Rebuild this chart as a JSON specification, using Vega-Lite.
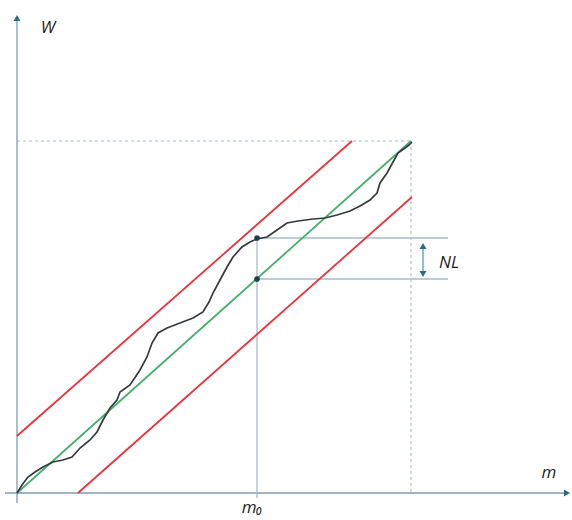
{
  "$schema": "https://vega.github.io/schema/vega-lite/v6.json",
  "width": 572,
  "height": 520,
  "autosize": {"type": "fit", "contains": "padding"},
  "padding": 0,
  "background": "white",
  "config": {"view": {"stroke": null}},
  "datasets": {
    "segs": [
      {"kind": "axis", "x": 17, "y": 17, "x2": 17, "y2": 502},
      {"kind": "axis", "x": 5, "y": 27, "x2": 566, "y2": 27},
      {"kind": "green", "x": 17, "y": 27, "x2": 411, "y2": 379},
      {"kind": "red", "x": 17, "y": 84, "x2": 352, "y2": 379},
      {"kind": "red", "x": 78, "y": 27, "x2": 412, "y2": 323},
      {"kind": "dashed", "x": 17, "y": 379, "x2": 411, "y2": 379},
      {"kind": "dashed", "x": 411, "y": 379, "x2": 411, "y2": 27},
      {"kind": "guide", "x": 257, "y": 281, "x2": 257, "y2": 22},
      {"kind": "guide", "x": 257, "y": 282, "x2": 448, "y2": 282},
      {"kind": "guide", "x": 257, "y": 241, "x2": 448, "y2": 241},
      {"kind": "nl", "x": 423, "y": 245, "x2": 423, "y2": 275}
    ],
    "arrows": [
      {"shape": "triangle-up", "x": 17, "y": 502},
      {"shape": "triangle-right", "x": 567, "y": 27},
      {"shape": "triangle-up", "x": 423, "y": 274},
      {"shape": "triangle-down", "x": 423, "y": 246}
    ],
    "curve": [
      {"x": 17, "y": 27}, {"x": 22, "y": 35}, {"x": 28, "y": 43}, {"x": 35, "y": 48},
      {"x": 43, "y": 53}, {"x": 53, "y": 58}, {"x": 63, "y": 60}, {"x": 72, "y": 63},
      {"x": 80, "y": 72}, {"x": 90, "y": 80}, {"x": 97, "y": 88}, {"x": 103, "y": 100},
      {"x": 110, "y": 112}, {"x": 117, "y": 120}, {"x": 120, "y": 128}, {"x": 130, "y": 135},
      {"x": 140, "y": 150}, {"x": 147, "y": 163}, {"x": 152, "y": 177}, {"x": 158, "y": 187},
      {"x": 167, "y": 192}, {"x": 180, "y": 197}, {"x": 193, "y": 202}, {"x": 203, "y": 208},
      {"x": 209, "y": 218}, {"x": 213, "y": 227}, {"x": 220, "y": 240}, {"x": 227, "y": 253},
      {"x": 233, "y": 263}, {"x": 242, "y": 273}, {"x": 250, "y": 278}, {"x": 257, "y": 281},
      {"x": 267, "y": 283}, {"x": 277, "y": 290}, {"x": 287, "y": 297}, {"x": 298, "y": 299},
      {"x": 313, "y": 301}, {"x": 325, "y": 302}, {"x": 337, "y": 305}, {"x": 350, "y": 309},
      {"x": 360, "y": 314}, {"x": 370, "y": 320}, {"x": 377, "y": 327}, {"x": 380, "y": 337},
      {"x": 387, "y": 347}, {"x": 393, "y": 358}, {"x": 398, "y": 367}, {"x": 405, "y": 372},
      {"x": 409, "y": 375}, {"x": 412, "y": 378}
    ],
    "pts": [
      {"x": 257, "y": 282},
      {"x": 257, "y": 241}
    ],
    "labels": [
      {"text": "W", "x": 48, "y": 492},
      {"text": "m", "x": 549, "y": 47},
      {"text": "m₀", "x": 252, "y": 12},
      {"text": "NL", "x": 449, "y": 257}
    ]
  },
  "layer": [
    {
      "data": {"name": "segs"},
      "transform": [{"filter": "datum.kind === 'axis'"}],
      "mark": {"type": "rule", "color": "#7d9db3", "strokeWidth": 1.3},
      "encoding": {
        "x": {"field": "x", "type": "quantitative", "scale": {"domain": [0, 572], "nice": false, "zero": false}, "axis": null},
        "y": {"field": "y", "type": "quantitative", "scale": {"domain": [0, 520], "nice": false, "zero": false}, "axis": null},
        "x2": {"field": "x2"},
        "y2": {"field": "y2"}
      }
    },
    {
      "data": {"name": "segs"},
      "transform": [{"filter": "datum.kind === 'dashed'"}],
      "mark": {"type": "rule", "color": "#a9bccb", "strokeWidth": 1.1, "strokeDash": [3, 3]},
      "encoding": {
        "x": {"field": "x", "type": "quantitative"},
        "y": {"field": "y", "type": "quantitative"},
        "x2": {"field": "x2"},
        "y2": {"field": "y2"}
      }
    },
    {
      "data": {"name": "segs"},
      "transform": [{"filter": "datum.kind === 'guide'"}],
      "mark": {"type": "rule", "color": "#a6bccb", "strokeWidth": 1.3},
      "encoding": {
        "x": {"field": "x", "type": "quantitative"},
        "y": {"field": "y", "type": "quantitative"},
        "x2": {"field": "x2"},
        "y2": {"field": "y2"}
      }
    },
    {
      "data": {"name": "segs"},
      "transform": [{"filter": "datum.kind === 'green'"}],
      "mark": {"type": "rule", "color": "#45b06c", "strokeWidth": 1.8},
      "encoding": {
        "x": {"field": "x", "type": "quantitative"},
        "y": {"field": "y", "type": "quantitative"},
        "x2": {"field": "x2"},
        "y2": {"field": "y2"}
      }
    },
    {
      "data": {"name": "segs"},
      "transform": [{"filter": "datum.kind === 'red'"}],
      "mark": {"type": "rule", "color": "#e8343c", "strokeWidth": 1.8},
      "encoding": {
        "x": {"field": "x", "type": "quantitative"},
        "y": {"field": "y", "type": "quantitative"},
        "x2": {"field": "x2"},
        "y2": {"field": "y2"}
      }
    },
    {
      "data": {"name": "segs"},
      "transform": [{"filter": "datum.kind === 'nl'"}],
      "mark": {"type": "rule", "color": "#5b9ab3", "strokeWidth": 1.3},
      "encoding": {
        "x": {"field": "x", "type": "quantitative"},
        "y": {"field": "y", "type": "quantitative"},
        "x2": {"field": "x2"},
        "y2": {"field": "y2"}
      }
    },
    {
      "data": {"name": "curve"},
      "mark": {"type": "line", "color": "#353a3f", "strokeWidth": 1.7, "interpolate": "linear"},
      "encoding": {
        "x": {"field": "x", "type": "quantitative"},
        "y": {"field": "y", "type": "quantitative"}
      }
    },
    {
      "data": {"name": "arrows"},
      "mark": {"type": "point", "filled": true, "color": "#2a6d88", "size": 50, "opacity": 1},
      "encoding": {
        "x": {"field": "x", "type": "quantitative"},
        "y": {"field": "y", "type": "quantitative"},
        "shape": {"field": "shape", "type": "nominal", "scale": null, "legend": null}
      }
    },
    {
      "data": {"name": "pts"},
      "mark": {"type": "point", "filled": true, "color": "#1b3f4b", "size": 32, "opacity": 1},
      "encoding": {
        "x": {"field": "x", "type": "quantitative"},
        "y": {"field": "y", "type": "quantitative"}
      }
    },
    {
      "data": {"name": "labels"},
      "mark": {"type": "text", "font": "Open Sans", "fontStyle": "italic", "fontSize": 17, "color": "#1e1e1e", "align": "center", "baseline": "middle"},
      "encoding": {
        "x": {"field": "x", "type": "quantitative"},
        "y": {"field": "y", "type": "quantitative"},
        "text": {"field": "text", "type": "nominal"}
      }
    }
  ]
}
